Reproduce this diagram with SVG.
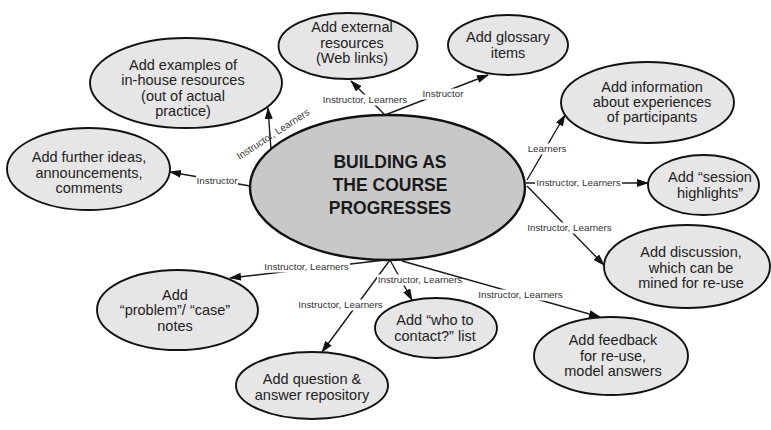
<svg xmlns="http://www.w3.org/2000/svg" width="771" height="430" viewBox="0 0 771 430">
<style>
.bg{fill:#ffffff}
.node ellipse{fill:#e6e6e6;stroke:#111;stroke-width:1.9}
.node text{font-family:"Liberation Sans",Arial,sans-serif;font-size:14.5px;fill:#222;text-anchor:middle}
#center ellipse{fill:#c8c8c8;stroke:#111;stroke-width:2.4}
#center text{font-family:"Liberation Sans",Arial,sans-serif;font-size:17.5px;font-weight:bold;fill:#1a1a1a;text-anchor:middle}
.edge{stroke:#1a1a1a;stroke-width:1.4;fill:none;marker-end:url(#arr)}
.lbg{fill:#ffffff}
.lbl{font-family:"Liberation Sans",Arial,sans-serif;font-size:9.8px;fill:#333;text-anchor:middle}
</style>
<defs>
<marker id="arr" viewBox="0 0 12 8" refX="11" refY="4" markerWidth="12" markerHeight="8" markerUnits="userSpaceOnUse" orient="auto">
<path d="M0,0 L12,4 L0,8 z" fill="#111"/>
</marker>
</defs>
<rect class="bg" x="0" y="0" width="771" height="430"/>
<g id="connectors">
<line class="edge" x1="250" y1="186" x2="170" y2="172"/>
<rect class="lbg" x="196" y="175.5" width="42" height="11"/>
<text class="lbl" x="217" y="184">Instructor</text>

<line class="edge" x1="271" y1="150" x2="268" y2="108"/>
<text class="lbl" transform="translate(273,134) rotate(-33)" x="0" y="3.5">Instructor, Learners</text>

<line class="edge" x1="385" y1="115" x2="351" y2="81"/>
<rect class="lbg" x="322" y="94.5" width="87" height="11"/>
<text class="lbl" x="365" y="103">Instructor, Learners</text>

<line class="edge" x1="385" y1="115" x2="488" y2="75"/>
<rect class="lbg" x="422" y="88.5" width="42" height="11"/>
<text class="lbl" x="443" y="97">Instructor</text>

<line class="edge" x1="527" y1="180" x2="565" y2="115"/>
<rect class="lbg" x="527" y="143.5" width="40" height="11"/>
<text class="lbl" x="547" y="152">Learners</text>

<line class="edge" x1="526" y1="183" x2="648" y2="183"/>
<rect class="lbg" x="535" y="177.5" width="87" height="11"/>
<text class="lbl" x="578.5" y="186">Instructor, Learners</text>

<line class="edge" x1="527" y1="186" x2="604" y2="265"/>
<rect class="lbg" x="526" y="222.5" width="87" height="11"/>
<text class="lbl" x="569.5" y="231">Instructor, Learners</text>

<line class="edge" x1="385" y1="260" x2="230" y2="278"/>
<rect class="lbg" x="263" y="261.5" width="87" height="11"/>
<text class="lbl" x="306.5" y="270">Instructor, Learners</text>

<line class="edge" x1="390" y1="260" x2="322" y2="352"/>
<rect class="lbg" x="297" y="299.5" width="87" height="11"/>
<text class="lbl" x="340.5" y="308">Instructor, Learners</text>

<line class="edge" x1="390" y1="260" x2="412" y2="300"/>
<rect class="lbg" x="377" y="274.5" width="86" height="11"/>
<text class="lbl" x="420" y="283">Instructor, Learners</text>

<line class="edge" x1="402" y1="261" x2="600" y2="317"/>
<rect class="lbg" x="477" y="289.5" width="87" height="11"/>
<text class="lbl" x="520.5" y="298">Instructor, Learners</text>
</g>

<g id="center">
<ellipse cx="387.5" cy="187.5" rx="137.5" ry="72.5"/>
<text x="390" y="168">BUILDING AS</text>
<text x="390" y="191">THE COURSE</text>
<text x="390" y="214">PROGRESSES</text>
</g>

<g id="n-examples" class="node">
<ellipse cx="186" cy="83" rx="96" ry="45"/>
<text x="183" y="69.5">Add examples of</text>
<text x="183" y="85">in-house resources</text>
<text x="183" y="100.5">(out of actual</text>
<text x="183" y="116">practice)</text>
</g>

<g id="n-external" class="node">
<ellipse cx="348" cy="46" rx="69.5" ry="33"/>
<text x="352" y="32">Add external</text>
<text x="352" y="47.5">resources</text>
<text x="352" y="63">(Web links)</text>
</g>

<g id="n-glossary" class="node">
<ellipse cx="508" cy="45" rx="60" ry="30"/>
<text x="508" y="42">Add glossary</text>
<text x="508" y="57.5">items</text>
</g>

<g id="n-information" class="node">
<ellipse cx="647.5" cy="102.5" rx="86.5" ry="40.5"/>
<text x="652" y="92">Add information</text>
<text x="652" y="107">about experiences</text>
<text x="652" y="122">of participants</text>
</g>

<g id="n-session" class="node">
<ellipse cx="703.5" cy="185" rx="55.5" ry="30"/>
<text x="710" y="182">Add “session</text>
<text x="710" y="197.5">highlights”</text>
</g>

<g id="n-discussion" class="node">
<ellipse cx="687" cy="266.5" rx="83" ry="41.5"/>
<text x="691" y="257">Add discussion,</text>
<text x="691" y="272.5">which can be</text>
<text x="691" y="288">mined for re-use</text>
</g>

<g id="n-feedback" class="node">
<ellipse cx="611" cy="356" rx="77" ry="39"/>
<text x="613" y="345">Add feedback</text>
<text x="613" y="360.5">for re-use,</text>
<text x="613" y="376">model answers</text>
</g>

<g id="n-whoto" class="node">
<ellipse cx="436" cy="328" rx="61" ry="30"/>
<text x="435" y="325">Add “who to</text>
<text x="435" y="341">contact?” list</text>
</g>

<g id="n-question" class="node">
<ellipse cx="312" cy="385.5" rx="76" ry="33.5"/>
<text x="312" y="384">Add question &amp;</text>
<text x="312" y="400">answer repository</text>
</g>

<g id="n-problem" class="node">
<ellipse cx="177.5" cy="310" rx="80.5" ry="40"/>
<text x="175" y="300">Add</text>
<text x="175" y="315">“problem”/ “case”</text>
<text x="175" y="330.5">notes</text>
</g>

<g id="n-further" class="node">
<ellipse cx="88.5" cy="169" rx="81.5" ry="41"/>
<text x="89" y="162">Add further ideas,</text>
<text x="89" y="177.5">announcements,</text>
<text x="89" y="193">comments</text>
</g>
</svg>
